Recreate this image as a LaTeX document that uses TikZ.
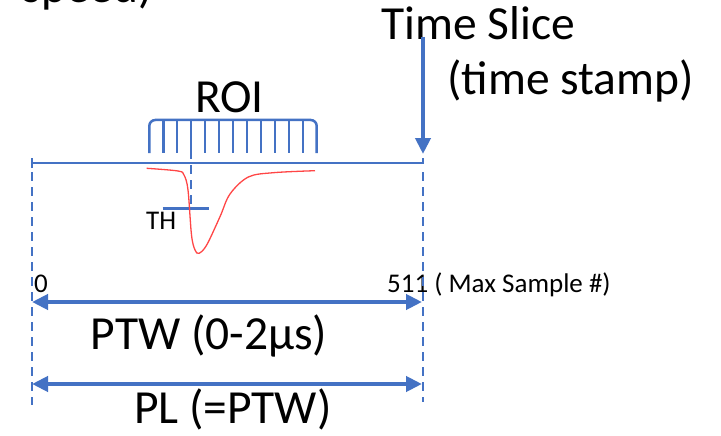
\documentclass[tikz,border=0pt]{standalone}
\usepackage{fontspec}
\setmainfont{Carlito}
\usetikzlibrary{arrows.meta}
\definecolor{ublue}{RGB}{68,114,196}
\definecolor{ured}{RGB}{255,70,70}
\begin{document}
\begin{tikzpicture}[x=1pt,y=-1pt,
  big/.style={font=\fontsize{47.5}{52}\selectfont, inner sep=0pt, anchor=base west},
  small/.style={font=\fontsize{27}{31}\selectfont, inner sep=0pt, anchor=base west},
  axis/.style={ublue, line width=2pt},
  comb/.style={ublue, line width=2.5pt},
  guide/.style={ublue, line width=2pt, dash pattern=on 9pt off 6pt},
  dimarrow/.style={ublue, line width=4pt, {Triangle[length=16pt,width=15pt]}-{Triangle[length=16pt,width=15pt]}},
  slicearrow/.style={ublue, line width=4pt, -{Triangle[length=16pt,width=15pt]}},
  pulse/.style={ured, line width=1.3pt}]
\useasboundingbox (0,0) rectangle (721,436);
\clip (0,0) rectangle (721,436);

% coordinates
\coordinate (tlL) at (32,163);
\coordinate (tlR) at (423,163);
\coordinate (tsTop) at (423,37);
\coordinate (tsTip) at (423,154);
\coordinate (gLtop) at (32,172);
\coordinate (gLbot) at (32,405);
\coordinate (gRtop) at (423,172);
\coordinate (gRbot) at (423,402);
\coordinate (ptwL) at (32,302);
\coordinate (ptwR) at (422,302);
\coordinate (plL) at (32,384);
\coordinate (plR) at (422,384);
\coordinate (thL) at (162.7,208.3);
\coordinate (thR) at (209.3,208.3);
\coordinate (roiTop) at (191.15,120);
\coordinate (roiBot) at (191.15,208.3);

% texts
\node[big, anchor=base east] (speed) at (153,3) {speed)};
\node[big] (slice) at (381,39.5) {Time Slice};
\node[big] (stamp) at (447,95) {(time stamp)};
\node[big, anchor=base] (roi) at (229.5,113) {ROI};
\node[small] (th) at (146,229) {TH};
\node[small] (zero) at (34,292) {0};
\node[small] (max) at (387,292) {511 ( Max Sample \#)};
\node[big] (ptw) at (90.5,349) {PTW (0-2µs)};
\node[big] (pl) at (134,423.5) {PL (=PTW)};

% timeline
\draw[axis] (tlL) -- (tlR) -- ++(0,-5);
\draw[axis] ([yshift=-5pt]tlL) -- ([yshift=5pt]tlL);

% guides
\draw[guide] (gLtop) -- (gLbot);
\draw[guide] (gRtop) -- (gRbot);
\draw[guide] (roiTop) -- (roiBot);

% ROI comb
\draw[comb, rounded corners=6pt] (149.3,153) -- (149.3,120) -- (316.7,120) -- (316.7,153);
\foreach \i in {1,...,11} \draw[comb] (149.3+\i*13.95,120) -- ++(0,33);

% TH line
\draw[comb] (thL) -- (thR);

% pulse
\draw[pulse] plot[smooth, tension=0.55] coordinates {(146.7,168.3) (178,171) (184,175) (188,190) (191.5,235) (195,250) (199,253.3) (206.7,245) (220,216.7) (230,194) (248.3,177) (273.3,172.7) (315,170.7)};

% arrows
\draw[slicearrow] (tsTop) -- (tsTip);
\draw[dimarrow] (ptwL) -- (ptwR);
\draw[dimarrow] (plL) -- (plR);
\end{tikzpicture}
\end{document}
